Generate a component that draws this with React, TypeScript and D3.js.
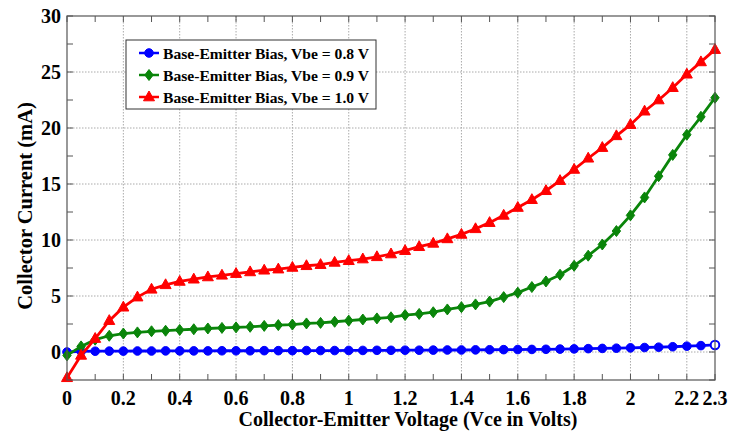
import React from "react";
import * as d3 from "d3";

const vce = [0, 0.05, 0.1, 0.15, 0.2, 0.25, 0.3, 0.35, 0.4, 0.45, 0.5, 0.55, 0.6, 0.65, 0.7, 0.75, 0.8, 0.85, 0.9, 0.95, 1.0, 1.05, 1.1, 1.15, 1.2, 1.25, 1.3, 1.35, 1.4, 1.45, 1.5, 1.55, 1.6, 1.65, 1.7, 1.75, 1.8, 1.85, 1.9, 1.95, 2.0, 2.05, 2.1, 2.15, 2.2, 2.25, 2.3];

const ic08 = [0.0, 0.05, 0.07, 0.08, 0.08, 0.09, 0.09, 0.1, 0.1, 0.1, 0.1, 0.11, 0.11, 0.11, 0.12, 0.12, 0.12, 0.13, 0.13, 0.13, 0.14, 0.14, 0.15, 0.15, 0.16, 0.16, 0.17, 0.18, 0.18, 0.19, 0.2, 0.21, 0.22, 0.23, 0.24, 0.26, 0.28, 0.3, 0.32, 0.34, 0.37, 0.4, 0.43, 0.47, 0.52, 0.57, 0.63];

const ic09 = [-0.3, 0.5, 1.1, 1.45, 1.65, 1.75, 1.85, 1.9, 1.97, 2.03, 2.1, 2.15, 2.2, 2.25, 2.33, 2.4, 2.45, 2.55, 2.6, 2.7, 2.8, 2.9, 3.0, 3.1, 3.3, 3.4, 3.55, 3.8, 4.0, 4.25, 4.5, 4.9, 5.3, 5.8, 6.3, 6.9, 7.7, 8.6, 9.6, 10.8, 12.2, 13.8, 15.7, 17.6, 19.4, 21.0, 22.7];

const ic10 = [-2.3, -0.3, 1.2, 2.8, 4.0, 4.9, 5.6, 6.0, 6.3, 6.5, 6.7, 6.85, 7.0, 7.15, 7.3, 7.4, 7.55, 7.7, 7.8, 8.0, 8.15, 8.3, 8.5, 8.75, 9.05, 9.4, 9.7, 10.1, 10.5, 11.0, 11.55, 12.2, 12.9, 13.6, 14.4, 15.3, 16.3, 17.3, 18.25, 19.3, 20.3, 21.5, 22.5, 23.6, 24.8, 25.9, 27.0];

const xTicks = [0, 0.2, 0.4, 0.6, 0.8, 1, 1.2, 1.4, 1.6, 1.8, 2, 2.2, 2.3];
const xMinor = [0.1, 0.3, 0.5, 0.7, 0.9, 1.1, 1.3, 1.5, 1.7, 1.9, 2.1];
const yTicks = [0, 5, 10, 15, 20, 25, 30];
const yMinor = [-2.5, 2.5, 7.5, 12.5, 17.5, 22.5, 27.5];

const seriesNames = ["Base-Emitter Bias, Vbe = 0.8 V", "Base-Emitter Bias, Vbe = 0.9 V", "Base-Emitter Bias, Vbe = 1.0 V"];
const seriesColors = ["#0000ff", "#0a850a", "#ff0000"];
const seriesShapes = ["circle", "diamond", "triangle"];

const W = 730, H = 434;
const L = 67, R = 715, T = 16, B = 380;

const FONT = "'Liberation Serif', 'Times New Roman', serif";

function Marker({ shape, x, y, color, hollow }: { shape: string; x: number; y: number; color: string; hollow?: boolean }) {
  if (shape === "circle") {
    return <circle cx={x} cy={y} r={4.3} fill={hollow ? "#fff" : color} stroke={color} strokeWidth={hollow ? 2 : 1} />;
  }
  if (shape === "diamond") {
    const p = `${x},${y - 5.5} ${x + 4.2},${y} ${x},${y + 5.5} ${x - 4.2},${y}`;
    return <polygon points={p} fill={color} stroke={color} strokeWidth={1} />;
  }
  const p = `${x},${y - 6} ${x + 5.5},${y + 3.8} ${x - 5.5},${y + 3.8}`;
  return <polygon points={p} fill={color} stroke={color} strokeWidth={1} />;
}

export default function App() {
  const x = d3.scaleLinear().domain([0, 2.3]).range([L, R]);
  const y = d3.scaleLinear().domain([-2.5, 30]).range([B, T]);
  const allSeries = [ic08, ic09, ic10];
  const line = d3.line<number>().x((_, i) => x(vce[i])).y((d) => y(d));
  const tl = 6;
  const axisColor = "#555";

  return (
    <div style={{ position: "absolute", left: 0, top: 0 }}>
      <svg width={W} height={H} style={{ display: "block", background: "#fff" }} fontFamily={FONT}>
        <rect x={0} y={0} width={W} height={H} fill="#fff" />
        {xTicks.slice(1, -1).map((t) => (
          <line key={"gx" + t} x1={x(t)} x2={x(t)} y1={T} y2={B} stroke="#aaa" strokeWidth={1} strokeDasharray="1.5,1.5" />
        ))}
        {yTicks.slice(0, -1).map((t) => (
          <line key={"gy" + t} x1={L} x2={R} y1={y(t)} y2={y(t)} stroke="#aaa" strokeWidth={1} strokeDasharray="1.5,1.5" />
        ))}
        {[...xTicks, ...xMinor].map((t) => (
          <g key={"tx" + t}>
            <line x1={x(t)} x2={x(t)} y1={B} y2={B - tl} stroke={axisColor} strokeWidth={1} />
            <line x1={x(t)} x2={x(t)} y1={T} y2={T + tl} stroke={axisColor} strokeWidth={1} />
          </g>
        ))}
        {[...yTicks, ...yMinor].map((t) => (
          <g key={"ty" + t}>
            <line x1={L} x2={L + tl} y1={y(t)} y2={y(t)} stroke={axisColor} strokeWidth={1} />
            <line x1={R} x2={R - tl} y1={y(t)} y2={y(t)} stroke={axisColor} strokeWidth={1} />
          </g>
        ))}
        {allSeries.map((s, si) => (
          <g key={"s" + si}>
            <path d={line(s) || ""} fill="none" stroke={seriesColors[si]} strokeWidth={2.8} />
            {s.map((v, i) => (
              <Marker key={i} shape={seriesShapes[si]} x={x(vce[i])} y={y(v)} color={seriesColors[si]} hollow={si === 0 && i === s.length - 1} />
            ))}
          </g>
        ))}
        <rect x={L} y={T} width={R - L} height={B - T} fill="none" stroke={axisColor} strokeWidth={1.2} />
        {xTicks.map((t) => (
          <text key={"lx" + t} x={x(t)} y={405} textAnchor="middle" fontSize={20} fontWeight="bold" fill="#000">
            {String(t)}
          </text>
        ))}
        {yTicks.map((t) => (
          <text key={"ly" + t} x={61} y={y(t) + 7} textAnchor="end" fontSize={20} fontWeight="bold" fill="#000">
            {String(t)}
          </text>
        ))}
        <text x={408} y={426} textAnchor="middle" fontSize={20} fontWeight="bold" fill="#000">
          Collector-Emitter Voltage (Vce in Volts)
        </text>
        <text transform={`translate(32,206) rotate(-90)`} textAnchor="middle" fontSize={20.5} fontWeight="bold" fill="#000">
          Collector Current (mA)
        </text>
        <rect x={126} y={40} width={250} height={69} fill="#fff" stroke="#333" strokeWidth={1} />
        {seriesNames.map((n, i) => {
          const ly = 53 + i * 22;
          return (
            <g key={"lg" + i}>
              <line x1={139} x2={159} y1={ly} y2={ly} stroke={seriesColors[i]} strokeWidth={2.5} />
              <Marker shape={seriesShapes[i]} x={149} y={ly} color={seriesColors[i]} />
              <text x={163} y={ly + 5.5} fontSize={15.6} fontWeight="bold" fill="#000">
                {n}
              </text>
            </g>
          );
        })}
      </svg>
    </div>
  );
}
